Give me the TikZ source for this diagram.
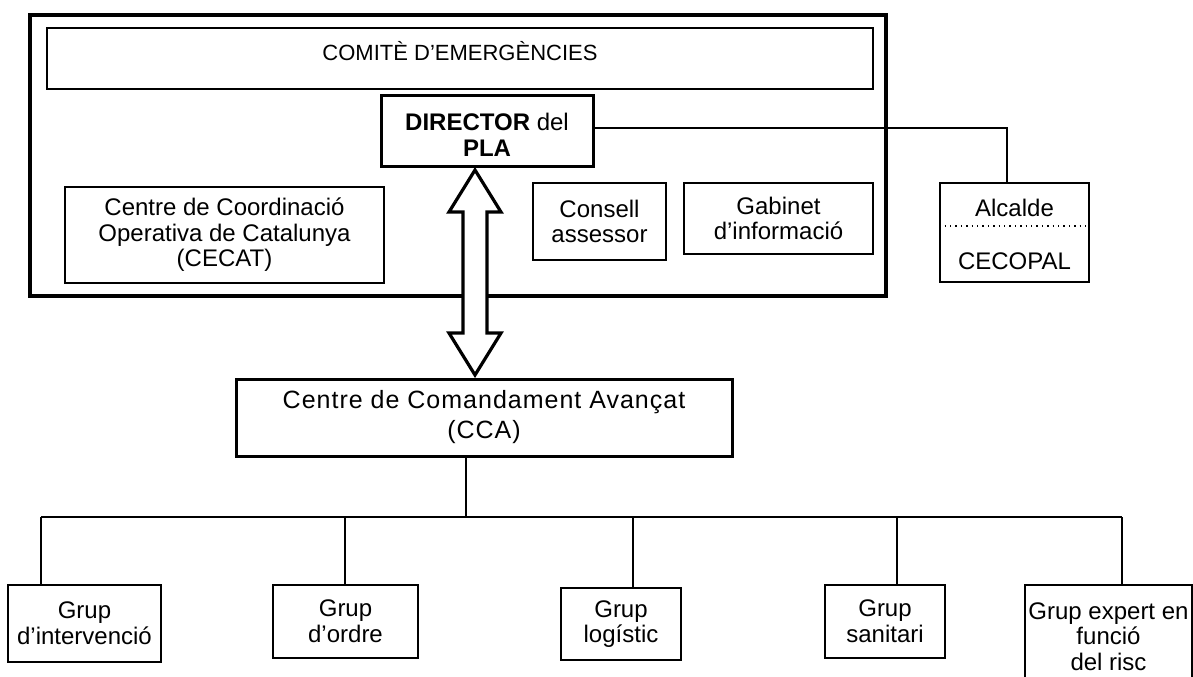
\documentclass[tikz,border=0pt]{standalone}
\usepackage{fontspec}
\setmainfont{Liberation Sans}
\newfontfamily\spacedfont[LetterSpace=4]{Liberation Sans}

\begin{document}
\begin{tikzpicture}[x=0.5pt,y=-0.5pt]
		\tikzset{box/.style = {shape=rectangle, draw, line width=0.75pt, align=center, inner sep=0pt, font=\fontsize{12}{12.8}\selectfont}}
		\tikzset{thickbox/.style = {box, line width=1.5pt}}
		\tikzset{link/.style = {line width=0.8pt}}

		\clip (0,0) rectangle (1193,676);

		\node[box, line width=2pt, minimum width=428.25pt, minimum height=140.5pt] (plan) at (457.75,155.5) {};
		\node[box, minimum width=413pt, minimum height=30.5pt, text height=8.2pt, text depth=6.5pt, font=\fontsize{11}{13}\selectfont] (comite) at (460,58.5) {COMITÈ D’EMERGÈNCIES};
		\node[thickbox, minimum width=106pt, minimum height=35.5pt, text height=25.5pt] (dir) at (487,130.5) {\textbf{DIRECTOR} del\\\textbf{PLA}};
		\node[box, minimum width=159.5pt, minimum height=48pt] (cecat) at (224.5,235) {Centre de Coordinació\\Operativa de Catalunya\\(CECAT)};
		\node[box, minimum width=66.5pt, minimum height=38.5pt] (consell) at (599.5,221.5) {Consell\\assessor};
		\node[box, minimum width=94.5pt, minimum height=35.5pt] (gabinet) at (778.5,218.5) {Gabinet\\d’informació};

		\node[box, minimum width=74.5pt, minimum height=49.5pt] (alcalde) at (1014.5,232.5) {};
		\node[font=\fontsize{12}{12.8}\selectfont, inner sep=0pt] (alc) at (1014.5,208) {Alcalde};
		\node[font=\fontsize{12}{12.8}\selectfont, inner sep=0pt] (cecopal) at (1014.5,261) {CECOPAL};
		\draw[dotted, line width=0.7pt] ([yshift=3.25pt]alcalde.west) -- ([yshift=3.25pt]alcalde.east);

		\node[thickbox, minimum width=248pt, minimum height=38.5pt, font=\spacedfont\fontsize{12.5}{15}\selectfont] (cca) at (484,417.5) {Centre de Comandament Avançat\\(CCA)};

		\node[box, minimum width=76.5pt, minimum height=38.5pt] (g_1) at (84.5,623.5) {Grup\\d’intervenció};
		\node[box, minimum width=72.5pt, minimum height=36.5pt] (g_2) at (345.5,621.5) {Grup\\d’ordre};
		\node[box, minimum width=60pt, minimum height=36pt] (g_3) at (621,624) {Grup\\logístic};
		\node[box, minimum width=60pt, minimum height=36.5pt] (g_4) at (885,621.5) {Grup\\sanitari};
		\node[box, minimum width=83.5pt, minimum height=51.5pt] (g_5) at (1108.5,636.5) {Grup expert en\\funció\\del risc};

		\coordinate (ak) at (1007,128);
		\draw[link] (dir.east |- ak) -- (ak) -- (ak |- alcalde.north);

		\coordinate (up) at (475,170);
		\coordinate (dn) at (475,375);
		\draw[line width=1.6pt, line join=miter, fill=white] (up) -- ++(26,42) -- ++(-14,0) -- ++(0,121) -- ++(14,0) -- (dn) -- ++(-26,-42) -- ++(14,0) -- ++(0,-121) -- ++(-14,0) -- cycle;

		\coordinate (bc) at (466,517);
		\coordinate (b_1) at (41,517);
		\coordinate (b_2) at (345,517);
		\coordinate (b_3) at (633,517);
		\coordinate (b_4) at (897,517);
		\coordinate (b_5) at (1122,517);

		\draw[link] (cca.south -| bc) -- (bc);
		\draw[link] (b_1) -- (b_5);
		\draw[link] (b_1) -- (b_1 |- g_1.north);
		\draw[link] (b_2) -- (b_2 |- g_2.north);
		\draw[link] (b_3) -- (b_3 |- g_3.north);
		\draw[link] (b_4) -- (b_4 |- g_4.north);
		\draw[link] (b_5) -- (b_5 |- g_5.north);

\end{tikzpicture}
\end{document}
